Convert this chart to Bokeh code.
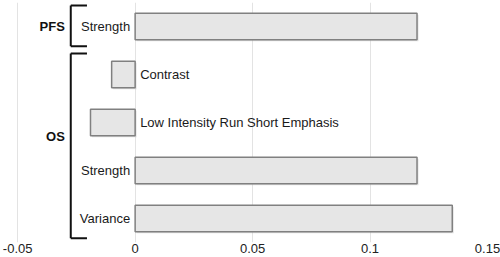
from bokeh.plotting import figure
from bokeh.models import ColumnDataSource, FixedTicker, Range1d
from bokeh.core.properties import value
from bokeh.embed import file_html
from bokeh.resources import INLINE

# ---- data ----
categories = ["Strength", "Contrast", "Low Intensity Run Short Emphasis", "Strength", "Variance"]
groups = ["PFS", "OS", "OS", "OS", "OS"]
values = [0.12, -0.01, -0.019, 0.12, 0.135]
tick_values = [-0.05, 0, 0.05, 0.1, 0.15]
tick_labels = ["-0.05", "0", "0.05", "0.1", "0.15"]
group_names = ["PFS", "OS"]

FONT = "Liberation Sans"

ypos = list(range(len(categories)))
# pixel-ish shadow offsets in data units (x: 0.2 over ~470px, y: 5 over ~240px)
sx = 0.2 / 470 * 1.5
sy = 5 / 240 * 1.5
src = ColumnDataSource(dict(
    y=ypos, v=values, cat=categories,
    lx=[0] * len(values),
    align=["right" if v >= 0 else "left" for v in values],
    off=[-5 if v >= 0 else 5 for v in values],
    sl=[min(0, v) + sx for v in values],
    sr=[max(0, v) + sx for v in values],
    sy=[y + sy for y in ypos],
))

p = figure(width=500, height=257, output_backend="svg", toolbar_location=None,
           x_range=Range1d(-0.0505, 0.15), y_range=Range1d(4.5, -0.5),
           min_border_left=16, min_border_right=13, min_border_top=2, min_border_bottom=15)
p.outline_line_color = None
p.yaxis.visible = False
p.ygrid.grid_line_color = None
p.xgrid.grid_line_color = "#e3e3e3"
p.xgrid.grid_line_width = 1
p.xaxis.ticker = FixedTicker(ticks=tick_values)
p.xaxis.major_label_overrides = {t: l for t, l in zip(tick_values, tick_labels)}
p.xaxis.axis_line_color = None
p.xaxis.major_tick_line_color = None
p.xaxis.minor_tick_line_color = None
p.xaxis.major_tick_out = 0
p.xaxis.major_tick_in = 0
p.xaxis.minor_tick_out = 0
p.xaxis.major_label_text_font = FONT
p.xaxis.major_label_text_font_size = "13px"
p.xaxis.major_label_text_color = "#222222"
p.xaxis.major_label_standoff = 1

# bar shadows
p.hbar(y="sy", left="sl", right="sr", height=0.55, source=src,
       fill_color="#b0b0b0", fill_alpha=0.35, line_color=None)
# bars
p.hbar(y="y", left=0, right="v", height=0.55, source=src,
       fill_color="#e6e6e6", line_color="#808080", line_width=1.5)

# category labels
p.text(x="lx", y="y", text="cat", source=src, x_offset="off",
       text_align="align", text_baseline="middle",
       text_font=value(FONT), text_font_size="13px", text_color="#1a1a1a")

# group brackets
bx = -0.0274
bt = -0.0205
for g in group_names:
    idx = [i for i, gg in enumerate(groups) if gg == g]
    y0 = min(idx) - 0.44
    y1 = max(idx) + 0.41
    p.segment(x0=[bx, bx, bx], y0=[y0, y0, y1], x1=[bx, bt, bt], y1=[y1, y0, y1],
              line_color="#111111", line_width=2)
    ymid = (min(idx) + max(idx)) / 2 - (0.2 if len(idx) > 1 else 0)
    p.text(x=[bx - 0.0025], y=[ymid], text=[g], text_align="right", text_baseline="middle",
           text_font=value(FONT), text_font_size="13px", text_font_style="bold",
           text_color="#111111")

open("out.html", "w").write(file_html(p, INLINE))
